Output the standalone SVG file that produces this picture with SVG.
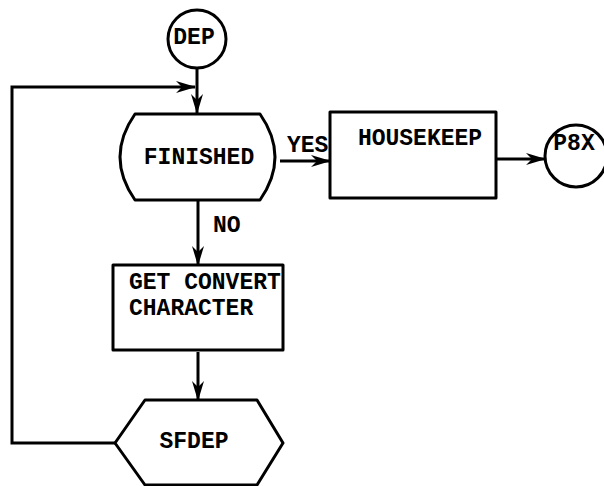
<svg xmlns="http://www.w3.org/2000/svg" width="604" height="486" viewBox="0 0 604 486">
<defs>
<style>
.s{fill:none;stroke:#000;stroke-width:3;stroke-linejoin:round}
.c{fill:none;stroke:#000;stroke-width:3}
.t{font-family:"Liberation Mono","Courier New",monospace;font-weight:bold;font-size:23px;fill:#000}
</style>
<marker id="ah" viewBox="0 0 20 12" refX="19" refY="6" markerWidth="20" markerHeight="12" markerUnits="userSpaceOnUse" orient="auto">
<path d="M0,0 L20,6 L0,12 L6,6 Z" fill="#000"/>
</marker>
</defs>
<g id="connectors">
<path class="c" d="M197,68 L197,113" marker-end="url(#ah)"/>
<path class="c" d="M115,443 L12,443 L12,87 L195,87" marker-end="url(#ah)"/>
<path class="c" d="M280,161 L330,161" marker-end="url(#ah)"/>
<path class="c" d="M496,159 L545,159" marker-end="url(#ah)"/>
<path class="c" d="M198,200 L198,265" marker-end="url(#ah)"/>
<path class="c" d="M198,352 L198,400" marker-end="url(#ah)"/>
<text class="t" x="287" y="152">YES</text>
<text class="t" x="213" y="232">NO</text>
</g>
<g id="dep">
<circle class="s" cx="197" cy="39" r="29"/>
<text class="t" x="194" y="44" text-anchor="middle">DEP</text>
</g>
<g id="finished">
<path class="s" d="M135,114 L260,114 Q290,157 260,200 L135,200 Q105,157 135,114 Z"/>
<text class="t" x="199" y="164" text-anchor="middle">FINISHED</text>
</g>
<g id="housekeep">
<rect class="s" x="330" y="112" width="166" height="86"/>
<text class="t" x="420" y="145" text-anchor="middle">HOUSEKEEP</text>
</g>
<g id="p8x">
<circle class="s" cx="576" cy="156" r="31"/>
<text class="t" x="574" y="150" text-anchor="middle">P8X</text>
</g>
<g id="getconvert">
<rect class="s" x="113" y="265" width="170" height="85"/>
<text class="t" x="129" y="289">GET CONVERT</text>
<text class="t" x="129" y="315">CHARACTER</text>
</g>
<g id="sfdep">
<path class="s" d="M115,443 L145,400 L257,400 L283,443 L257,485 L145,485 Z"/>
<text class="t" x="194" y="448" text-anchor="middle">SFDEP</text>
</g>
</svg>
